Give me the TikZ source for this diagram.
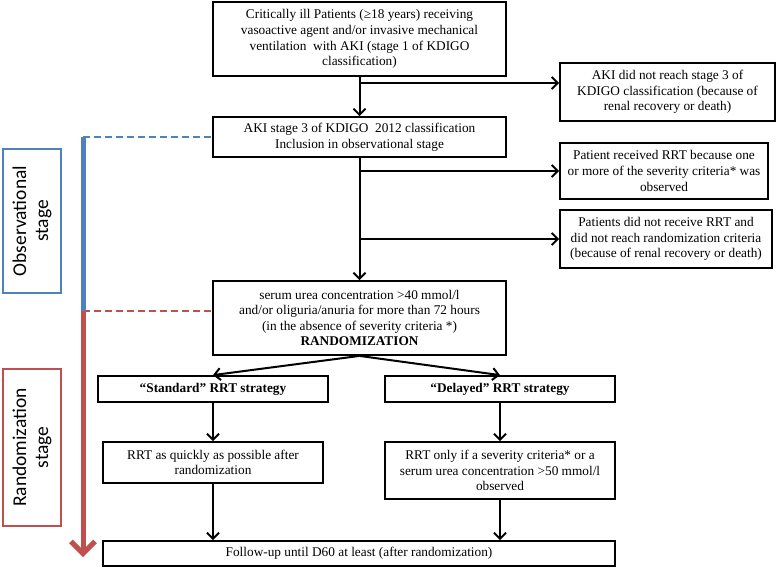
\documentclass[tikz,border=0pt]{standalone}
\usepackage{fontspec}
\setmainfont{Liberation Serif}
\newfontfamily\stagefont{Carlito}
\usetikzlibrary{arrows.meta}
\definecolor{obsblue}{RGB}{79,129,189}
\definecolor{randred}{RGB}{192,80,77}

\begin{document}
\begin{tikzpicture}[x=1pt, y=-1pt, >={Straight Barb[length=6pt,width=12pt]}]
  \tikzstyle{box} = [rectangle, draw, line width=1.8pt, align=center, inner sep=2pt, font=\fontsize{13.3}{15.6}\selectfont]
  \tikzstyle{stagebox} = [rectangle, draw, line width=1.8pt, align=center, rotate=90, minimum height=58pt, font=\stagefont\fontsize{19.5}{22}\selectfont]
  \tikzstyle{flow} = [line width=2pt, ->]
  \tikzstyle{stageline} = [line width=5pt]
  \tikzstyle{stagedash} = [line width=2pt, dash pattern=on 7pt off 4pt]

  \useasboundingbox (0,0) rectangle (778,571);

  % main column
  \node [box, minimum width=293pt, minimum height=74pt] (crit) at (359.5,39) {Critically ill Patients (≥18 years) receiving\\vasoactive agent and/or invasive mechanical\\ventilation\ \ with AKI (stage 1 of KDIGO\\classification)};
  \node [box, minimum width=293pt, minimum height=40pt] (aki3) at (359.5,137) {AKI stage 3 of KDIGO\ \ 2012 classification\\Inclusion in observational stage};
  \node [box, minimum width=293pt, minimum height=74pt] (serum) at (359.5,318) {serum urea concentration >40 mmol/l\\and/or oliguria/anuria for more than 72 hours\\(in the absence of severity criteria *)\\\textbf{RANDOMIZATION}};

  % exits on the right
  \node [box, minimum width=215pt, minimum height=58pt] (noreach) at (667.5,92) {AKI did not reach stage 3 of\\KDIGO classification (because of\\renal recovery or death)};
  \node [box, minimum width=208pt, minimum height=56pt] (rrtobs) at (664,171) {Patient received RRT because one\\or more of the severity criteria* was\\observed};
  \node [box, minimum width=212pt, minimum height=58pt] (norrt) at (666,239) {Patients did not receive RRT and\\did not reach randomization criteria\\(because of renal recovery or death)};

  % the two arms
  \node [box, minimum width=230pt, minimum height=26pt] (standard) at (213,389) {\textbf{“Standard” RRT strategy}};
  \node [box, minimum width=230pt, minimum height=26pt] (delayed) at (500,389) {\textbf{“Delayed” RRT strategy}};
  \node [box, minimum width=220pt, minimum height=41pt] (quick) at (213,462.5) {RRT as quickly as possible after\\randomization};
  \node [box, minimum width=230pt, minimum height=57pt] (onlyif) at (500,470.5) {RRT only if a severity criteria* or a\\serum urea concentration >50 mmol/l\\observed};
  \node [box, minimum width=512pt, minimum height=25pt] (follow) at (359,553.5) {Follow-up until D60 at least (after randomization)};

  % stages
  \node [stagebox, draw=obsblue, minimum width=144pt] (obsbox) at (32,221) {Observational\\stage};
  \node [stagebox, draw=randred, minimum width=157pt] (randbox) at (32,447.5) {Randomization\\stage};

  \coordinate (split1) at (359.5,83);
  \coordinate (obstop) at (83,137);
  \coordinate (randtop) at (83,311);
  \coordinate (randend) at (83,557);

  \draw[flow] (crit.south) -- (aki3.north);
  \draw[flow] (split1) -- (split1 -| noreach.west);
  \draw[flow] (aki3.south) -- (serum.north);
  \draw[flow] (aki3.south |- rrtobs.west) -- (rrtobs.west);
  \draw[flow] (aki3.south |- norrt.west) -- (norrt.west);
  \draw[flow] (serum.south) -- (standard.north);
  \draw[flow] (serum.south) -- (delayed.north);
  \draw[flow] (standard.south) -- (quick.north);
  \draw[flow] (delayed.south) -- (onlyif.north);
  \draw[flow] (quick.south) -- (quick.south |- follow.north);
  \draw[flow] (onlyif.south) -- (onlyif.south |- follow.north);

  \draw[stagedash, obsblue] (obstop) -- (aki3.west);
  \draw[stagedash, randred] (randtop) -- (randtop -| serum.west);
  \draw[stageline, obsblue] (obstop) -- (randtop);
  \draw[stageline, randred, -{Straight Barb[length=12pt,width=24pt]}] (randtop) -- (randend);
\end{tikzpicture}
\end{document}
